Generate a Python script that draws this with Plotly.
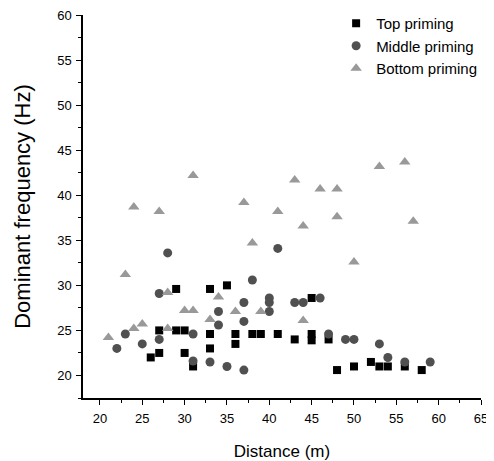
import plotly.graph_objects as go

# Top priming (squares)
top_x = [26, 27, 27, 29, 29, 30, 30, 31, 33, 33, 33, 35, 36, 36, 38, 39, 41, 43, 45, 45, 45, 47, 48, 50, 52, 53, 54, 56, 58]
top_y = [22.0, 25.0, 22.5, 29.6, 25.0, 25.0, 22.5, 21.0, 29.6, 24.6, 23.0, 30.0, 24.6, 23.5, 24.6, 24.6, 24.6, 24.0, 28.6, 24.6, 23.9, 24.0, 20.6, 21.0, 21.5, 21.0, 21.0, 21.0, 20.6]

# Middle priming (circles)
mid_x = [22, 23, 25, 27, 27, 28, 31, 31, 33, 34, 34, 35, 37, 37, 37, 38, 40, 40, 40, 41, 43, 44, 46, 47, 49, 50, 53, 54, 56, 59]
mid_y = [23.0, 24.6, 23.5, 29.1, 24.0, 33.6, 24.6, 21.6, 21.5, 27.1, 25.6, 21.0, 28.1, 26.0, 20.6, 30.6, 28.6, 28.1, 27.1, 34.1, 28.1, 28.1, 28.6, 24.6, 24.0, 24.0, 23.5, 22.0, 21.5, 21.5]

# Bottom priming (triangles)
bot_x = [21, 23, 24, 24, 25, 27, 28, 28, 30, 31, 31, 33, 34, 36, 37, 38, 39, 41, 43, 44, 44, 46, 48, 48, 50, 53, 56, 57]
bot_y = [24.2, 31.2, 38.7, 25.2, 25.7, 38.2, 29.2, 25.2, 27.2, 27.2, 42.2, 26.2, 28.7, 27.1, 39.2, 34.7, 27.1, 38.2, 41.7, 36.6, 26.1, 40.7, 40.7, 37.6, 32.6, 43.2, 43.7, 37.1]

series_names = ["Top priming", "Middle priming", "Bottom priming"]

x_ticks = [20, 25, 30, 35, 40, 45, 50, 55, 60, 65]
y_ticks = [20, 25, 30, 35, 40, 45, 50, 55, 60]

FONT = "Liberation Sans, Arial, sans-serif"

fig = go.Figure()
fig.add_trace(go.Scatter(x=top_x, y=top_y, mode="markers", name=series_names[0], legendgroup="a",
                         marker=dict(symbol="square", size=8, color="#000000")))
fig.add_trace(go.Scatter(x=mid_x, y=mid_y, mode="markers", name=series_names[1], legendgroup="b",
                         marker=dict(symbol="circle", size=9, color="#505050")))
fig.add_trace(go.Scatter(x=bot_x, y=bot_y, mode="markers", name=series_names[2], legendgroup="c",
                         marker=dict(symbol="triangle-up", size=10, color="#999999")))

axis_common = dict(
    showline=True, linecolor="black", linewidth=1.5, mirror=False,
    showgrid=False, zeroline=False, automargin=False, ticklabeloverflow="allow",
    ticks="outside", ticklen=5, tickwidth=1.3, tickcolor="black",
    tickfont=dict(family=FONT, size=13, color="black"),
)

fig.update_layout(
    width=494, height=461,
    margin=dict(l=75, r=21, t=7, b=71, autoexpand=False),
    paper_bgcolor="white", plot_bgcolor="white",
    font=dict(family=FONT, color="black"),
    showlegend=True,
    legend=dict(x=0.636, y=1.021, xanchor="left", yanchor="top", bgcolor="rgba(0,0,0,0)",
                font=dict(family=FONT, size=15, color="black"), tracegroupgap=0,
                itemwidth=30),
    xaxis=dict(range=[18, 65], tickvals=x_ticks, ticklabelstandoff=3,
               minor=dict(ticks="outside", dtick=2.5, tick0=0, ticklen=3, tickwidth=1.3, tickcolor="black"),
               title=dict(text="Distance (m)", font=dict(family=FONT, size=17, color="black"), standoff=20),
               **axis_common),
    yaxis=dict(range=[17.5, 60], tickvals=y_ticks, ticklabelstandoff=2,
               minor=dict(ticks="outside", dtick=2.5, tick0=0, ticklen=3, tickwidth=1.3, tickcolor="black"),
               title=dict(text="Dominant frequency (Hz)", font=dict(family=FONT, size=22, color="black"), standoff=20),
               **axis_common),
)

fig.write_html("out.html")
